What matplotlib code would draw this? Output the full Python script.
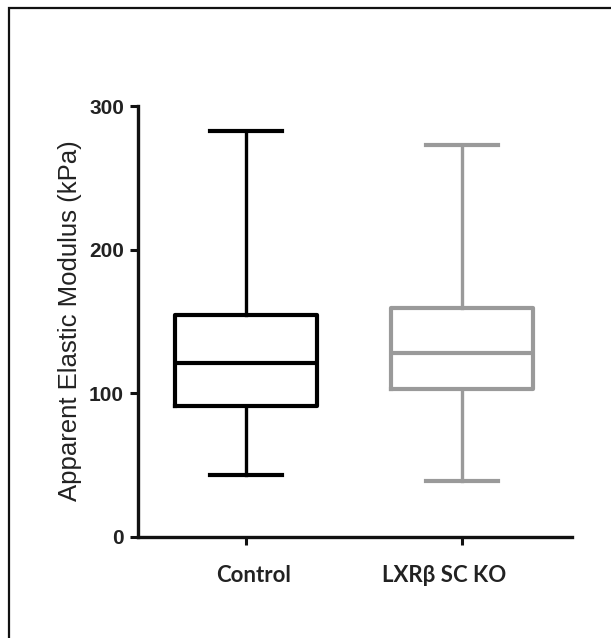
import matplotlib
matplotlib.use("Agg")
import matplotlib.pyplot as plt
import matplotlib.transforms as mtransforms
from matplotlib.patches import Rectangle

categories = ["Control", "LXRβ SC KO"]
whisker_low = [43.2, 39.2]
q1 = [91.5, 103.2]
median = [121.3, 128.3]
q3 = [154.5, 159.2]
whisker_high = [282.6, 273.1]
colors = ["#000000", "#9a9a9a"]
yticks = [0, 100, 200, 300]

fig = plt.figure(figsize=(6.11, 6.38), dpi=100)
ax = fig.add_axes([138/611, 1-537/638, (572-138)/611, (537-106)/638])

stats = []
for i, c in enumerate(categories):
    stats.append(dict(label=c, whislo=whisker_low[i], q1=q1[i], med=median[i],
                      q3=q3[i], whishi=whisker_high[i], fliers=[]))

positions = [1, 2]
for i, s in enumerate(stats):
    col = colors[i]
    ax.bxp([s], positions=[positions[i]], widths=0.66, capwidths=0.333,
           showfliers=False, patch_artist=False,
           boxprops=dict(color=col, linewidth=3.0),
           medianprops=dict(color=col, linewidth=3.0),
           whiskerprops=dict(color=col, linewidth=2.4),
           capprops=dict(color=col, linewidth=3.0))

ax.set_xlim(0.5, 2.51)
ax.set_ylim(0, 300)
ax.set_yticks(yticks)
ax.set_yticklabels([str(t) for t in yticks], fontfamily="Liberation Sans",
                   fontweight="bold", fontsize=15, color="#222222")
ax.set_xticks(positions)
ax.set_xticklabels(["", ""])
for sp in ["top", "right"]:
    ax.spines[sp].set_visible(False)
for sp in ["left", "bottom"]:
    ax.spines[sp].set_linewidth(2.4)
    ax.spines[sp].set_color("#111111")
ax.tick_params(axis="both", length=6, width=2.2, color="#111111", pad=4)

# category labels (slightly offset as in reference)
offsets_px = [8, -18]
for i, c in enumerate(categories):
    tr = mtransforms.blended_transform_factory(ax.transData, ax.transAxes) + \
        mtransforms.ScaledTranslation(offsets_px[i]/100, 0, fig.dpi_scale_trans)
    ax.text(positions[i], -(575-537)/431, c, transform=tr, ha="center", va="center",
            fontfamily="Lato", fontweight="bold", fontsize=16, color="#222222")

fig.text(70/611, 1-321/638, "Apparent Elastic Modulus (kPa)", rotation=90,
         ha="center", va="center", fontfamily="Liberation Sans", fontsize=18.5,
         color="#222222")

# outer frame
fig.patches.append(Rectangle((8.5/611, -0.1), 1.2, 1 - 7.5/638 + 0.1,
                             transform=fig.transFigure, fill=False,
                             edgecolor="#111111", linewidth=1.6))

fig.savefig("out.png", dpi=100)
